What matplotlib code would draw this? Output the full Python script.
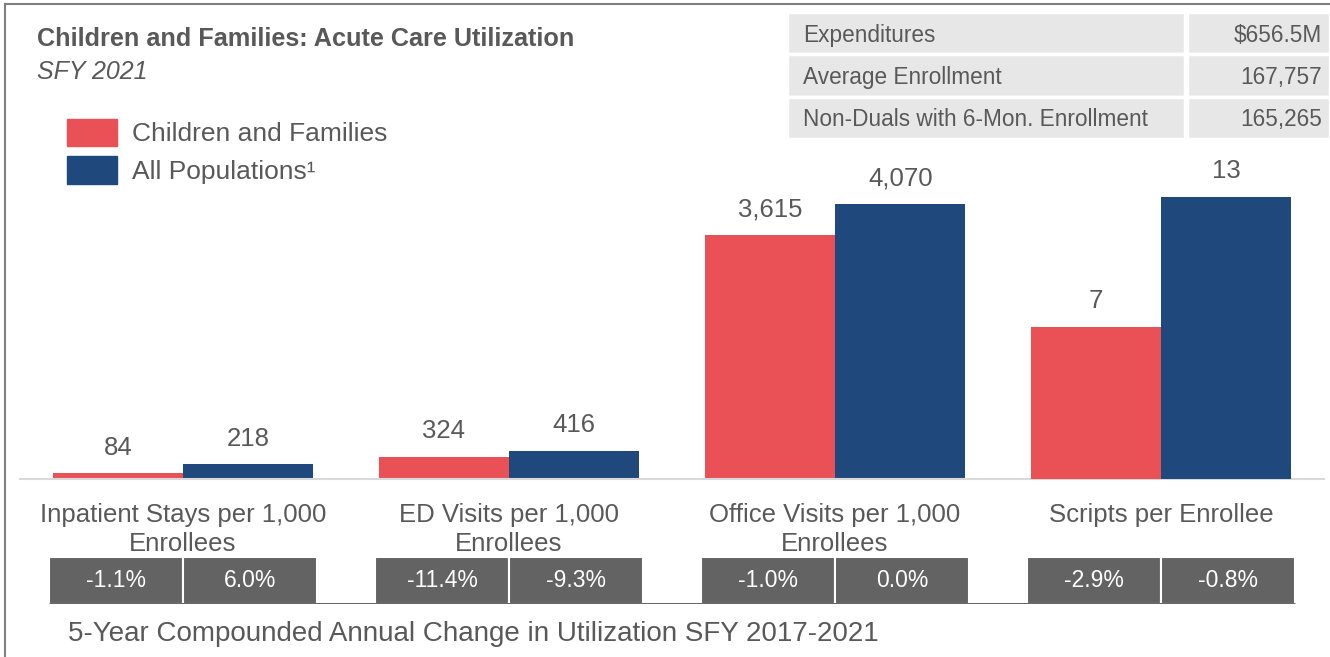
import matplotlib
matplotlib.use("Agg")
from matplotlib import pyplot as plt
import matplotlib.patches as patches
import numpy as np

# data
categories = ["Inpatient Stays per 1,000\nEnrollees", "ED Visits per 1,000\nEnrollees",
              "Office Visits per 1,000\nEnrollees", "Scripts per Enrollee"]
children_vals = [84, 324, 3615, 7]
all_pop_vals = [218, 416, 4070, 13]
secondary = [False, False, False, True]   # scripts drawn on their own scale
children_cagr = ["-1.1%", "-11.4%", "-1.0%", "-2.9%"]
all_pop_cagr = ["6.0%", "-9.3%", "0.0%", "-0.8%"]
series_names = ["Children and Families", "All Populations\u00b9"]
table_labels = ["Expenditures", "Average Enrollment", "Non-Duals with 6-Mon. Enrollment"]
table_values = ["$656.5M", "167,757", "165,265"]

RED = "#e95156"
BLUE = "#1f497d"
TXT = "#595959"
BOXGREY = "#636363"

plt.rcParams['font.family'] = ['Liberation Sans', 'DejaVu Sans']

W, H = 1330, 657
fig = plt.figure(figsize=(W / 100, H / 100), dpi=100)


def fbox(x0, y0, x1, y1):
    # pixel box (top-left origin) -> figure fraction rect
    return [x0 / W, 1 - y1 / H, (x1 - x0) / W, (y1 - y0) / H]


# outer frame (left and top edges)
fig.add_artist(plt.Line2D([5 / W, 5 / W], [0, 1 - 4 / H], color="#7f7f7f", lw=1.5))
fig.add_artist(plt.Line2D([5 / W, 1], [1 - 4 / H, 1 - 4 / H], color="#7f7f7f", lw=1.5))

# main bar axes
ax = fig.add_axes(fbox(20, 150, 1324, 479))
ax2 = ax.twinx()
ax.set_ylim(0, 329 / 0.0675)
ax2.set_ylim(0, 329 / 21.7)
ax.set_xlim(-0.5, 3.5)

bw = 0.4
x = np.arange(len(categories))
for i in range(len(categories)):
    target = ax2 if secondary[i] else ax
    b1 = target.bar(x[i] - bw / 2, children_vals[i], width=bw, color=RED)
    b2 = target.bar(x[i] + bw / 2, all_pop_vals[i], width=bw, color=BLUE)
    for bar, v in ((b1[0], children_vals[i]), (b2[0], all_pop_vals[i])):
        target.annotate(f"{v:,}", (bar.get_x() + bar.get_width() / 2, bar.get_height()),
                        xytext=(0, 18.5), textcoords="offset points",
                        ha="center", va="center", fontsize=18.5, color=TXT)

for a in (ax, ax2):
    for s in a.spines.values():
        s.set_visible(False)
    a.set_yticks([])
ax.spines["bottom"].set_visible(True)
ax.spines["bottom"].set_color("#d9d9d9")
ax.spines["bottom"].set_linewidth(1.5)
ax.set_xticks(x)
ax.set_xticklabels(categories, fontsize=18.5, color=TXT, linespacing=1.3)
ax.tick_params(axis="x", length=0, pad=17)

# compounded annual change boxes
axb = fig.add_axes(fbox(20, 557, 1324, 604))
axb.set_xlim(-0.5, 3.5)
axb.set_ylim(0, 1)
axb.axis("off")
cw = 0.41
axb.bar(x - cw / 2, 1, width=cw, color=BOXGREY, edgecolor="white", linewidth=1.5)
axb.bar(x + cw / 2, 1, width=cw, color=BOXGREY, edgecolor="white", linewidth=1.5)
axb.hlines(0.01, -cw, 3 + cw, color="#555555", lw=2)
for i in range(len(categories)):
    axb.text(x[i] - cw / 2, 0.5, children_cagr[i], ha="center", va="center",
             color="white", fontsize=16.5)
    axb.text(x[i] + cw / 2, 0.5, all_pop_cagr[i], ha="center", va="center",
             color="white", fontsize=16.5)

fig.text(68 / W, 1 - 634 / H, "5-Year Compounded Annual Change in Utilization SFY 2017-2021",
         fontsize=20, color=TXT, va="center", ha="left")

# titles
fig.text(37 / W, 1 - 39 / H, "Children and Families: Acute Care Utilization",
         fontweight="bold", fontsize=18.2, color=TXT, va="center", ha="left")
fig.text(37 / W, 1 - 72 / H, "SFY 2021", fontstyle="italic", fontsize=18,
         color=TXT, va="center", ha="left")

# legend
handles = [patches.Patch(color=RED), patches.Patch(color=BLUE)]
fig.legend(handles, series_names, loc="upper left",
           bbox_to_anchor=(67 / W, 1 - 119 / H), frameon=False, borderpad=0,
           borderaxespad=0, handlelength=1.9, handleheight=1.2, handletextpad=0.55,
           labelspacing=0.38, prop={"size": 19}, labelcolor=TXT)

# summary table, top right
axt = fig.add_axes(fbox(787, 12, 1330, 139))
axt.set_xlim(0, 543)
axt.set_ylim(127, 0)
axt.axis("off")
row_h = 127 / len(table_labels)
for r in range(len(table_labels)):
    y0 = r * row_h
    axt.add_patch(patches.Rectangle((0, y0), 398, row_h, facecolor="#e7e7e7",
                                    edgecolor="white", lw=2.5))
    axt.add_patch(patches.Rectangle((400, y0), 143, row_h, facecolor="#e7e7e7",
                                    edgecolor="white", lw=2.5))
    axt.text(16, y0 + row_h / 2 + 2, table_labels[r], fontsize=16.3, color=TXT,
             va="center", ha="left")
    axt.text(535, y0 + row_h / 2 + 2, table_values[r], fontsize=16.3, color=TXT,
             va="center", ha="right")

fig.savefig("out.png", dpi=100)
